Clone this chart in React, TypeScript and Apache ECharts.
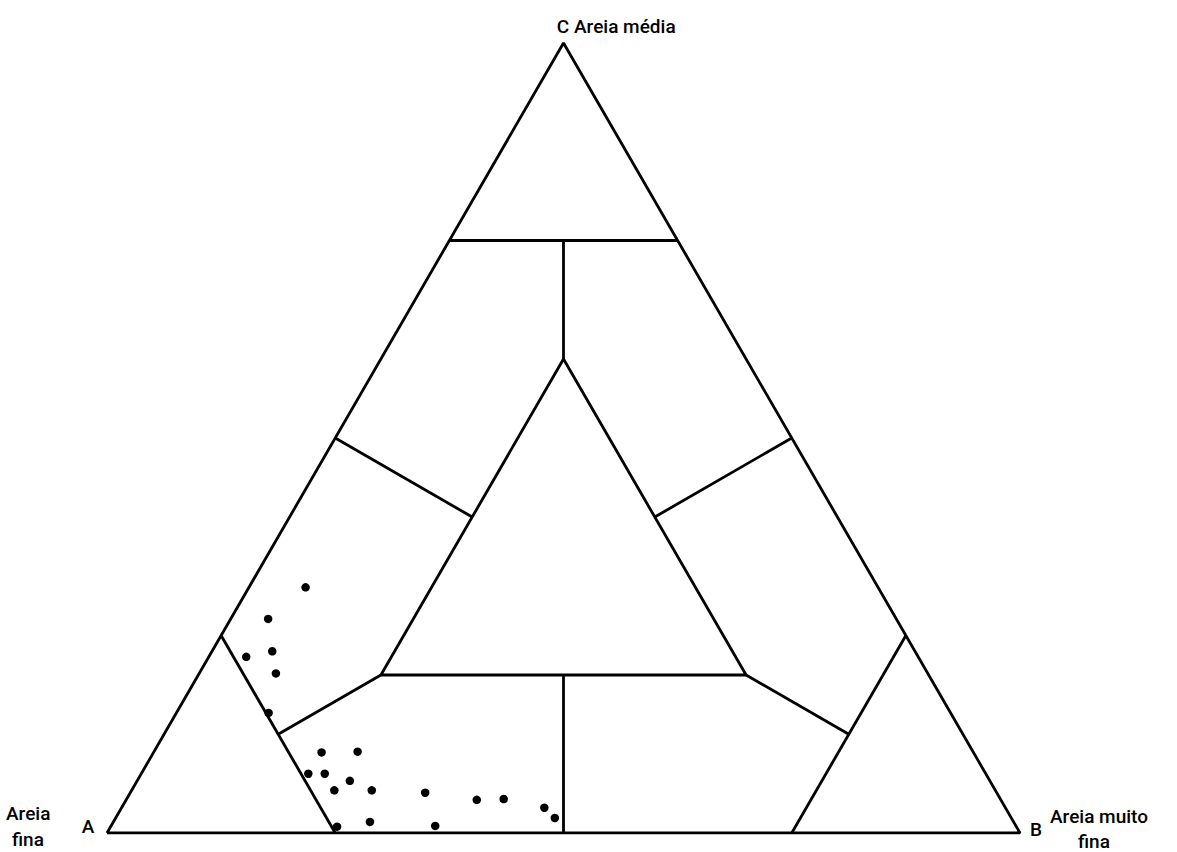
import React, { useEffect, useRef } from "react";
import * as echarts from "echarts";

// Ternary sand-fraction diagram: A = areia fina, B = areia muito fina, C = areia média (%)
const areiaFina = [62.7, 68.8, 70.4, 73.6, 71.4, 74.7, 71.4, 67.4, 74.2, 72.4, 70.1, 72.4, 68.3, 62.6, 57.4, 54.4, 50.6, 50.0, 74.4, 70.5, 63.6];
const areiaMuitoFina = [6.2, 4.1, 6.6, 4.1, 8.4, 10.1, 18.4, 22.3, 18.3, 20.1, 23.3, 22.2, 26.3, 32.3, 38.4, 41.3, 46.3, 48.1, 24.8, 28.1, 35.5];
const areiaMedia = [31.1, 27.1, 23.0, 22.3, 20.2, 15.2, 10.2, 10.3, 7.5, 7.5, 6.6, 5.4, 5.4, 5.1, 4.2, 4.3, 3.2, 1.9, 0.8, 1.4, 0.9];

// Outline and class boundaries, each vertex given as [A, B, C] in %
const outline = [[100, 0, 0], [0, 100, 0], [0, 0, 100], [100, 0, 0]];
const innerTriangle = [[60, 20, 20], [20, 60, 20], [20, 20, 60], [60, 20, 20]];
const boundaries = [
  [[25, 0, 75], [0, 25, 75]],
  [[12.5, 12.5, 75], [20, 20, 60]],
  [[50, 0, 50], [40, 20, 40]],
  [[0, 50, 50], [20, 40, 40]],
  [[40, 40, 20], [50, 50, 0]],
  [[75, 0, 25], [75, 25, 0]],
  [[0, 75, 25], [25, 75, 0]],
  [[60, 20, 20], [75, 12.5, 12.5]],
  [[20, 60, 20], [12.5, 75, 12.5]],
];

const H = Math.sqrt(3) / 2;
const toXY = (p: number[]) => [p[1] + p[2] / 2, p[2] * H];

export default function App() {
  const ref = useRef<HTMLDivElement>(null);

  useEffect(() => {
    if (!ref.current) return;
    const chart = echarts.init(ref.current, undefined, { renderer: "svg" });

    const lineStyle = { color: "#000", width: 2.8 };
    const lineSeries = [outline, innerTriangle, ...boundaries].map((pts) => ({
      type: "line" as const,
      data: pts.map(toXY),
      symbol: "none",
      lineStyle,
      silent: true,
      z: 2,
    }));

    const points = areiaFina.map((a, i) => toXY([a, areiaMuitoFina[i], areiaMedia[i]]));

    const txt = (text: string, x: number, y: number, align = "left") => ({
      type: "text" as const,
      x,
      y,
      style: {
        text,
        fill: "#000",
        font: '500 19px "Roboto"',
        textAlign: align,
        textVerticalAlign: "middle",
      },
    });

    chart.setOption({
      animation: false,
      backgroundColor: "#fff",
      grid: { left: 107, right: 157, top: 43, bottom: 19 },
      xAxis: { type: "value", min: 0, max: 100, show: false },
      yAxis: { type: "value", min: 0, max: 100 * H, show: false },
      series: [
        ...lineSeries,
        {
          type: "scatter",
          data: points,
          symbol: "circle",
          symbolSize: 8.5,
          itemStyle: { color: "#000", opacity: 1 },
          z: 3,
        },
      ],
      graphic: [
        txt("C", 563, 26, "center"),
        txt("Areia média", 574, 26),
        txt("A", 88, 826, "center"),
        txt("Areia", 6, 813),
        txt("fina", 12, 839),
        txt("B", 1036, 829, "center"),
        txt("Areia muito", 1050, 816),
        txt("fina", 1078, 841),
      ],
    });

    return () => chart.dispose();
  }, []);

  return (
    <div
      ref={ref}
      style={{ position: "absolute", left: 0, top: 0, width: 1177, height: 852 }}
    />
  );
}
